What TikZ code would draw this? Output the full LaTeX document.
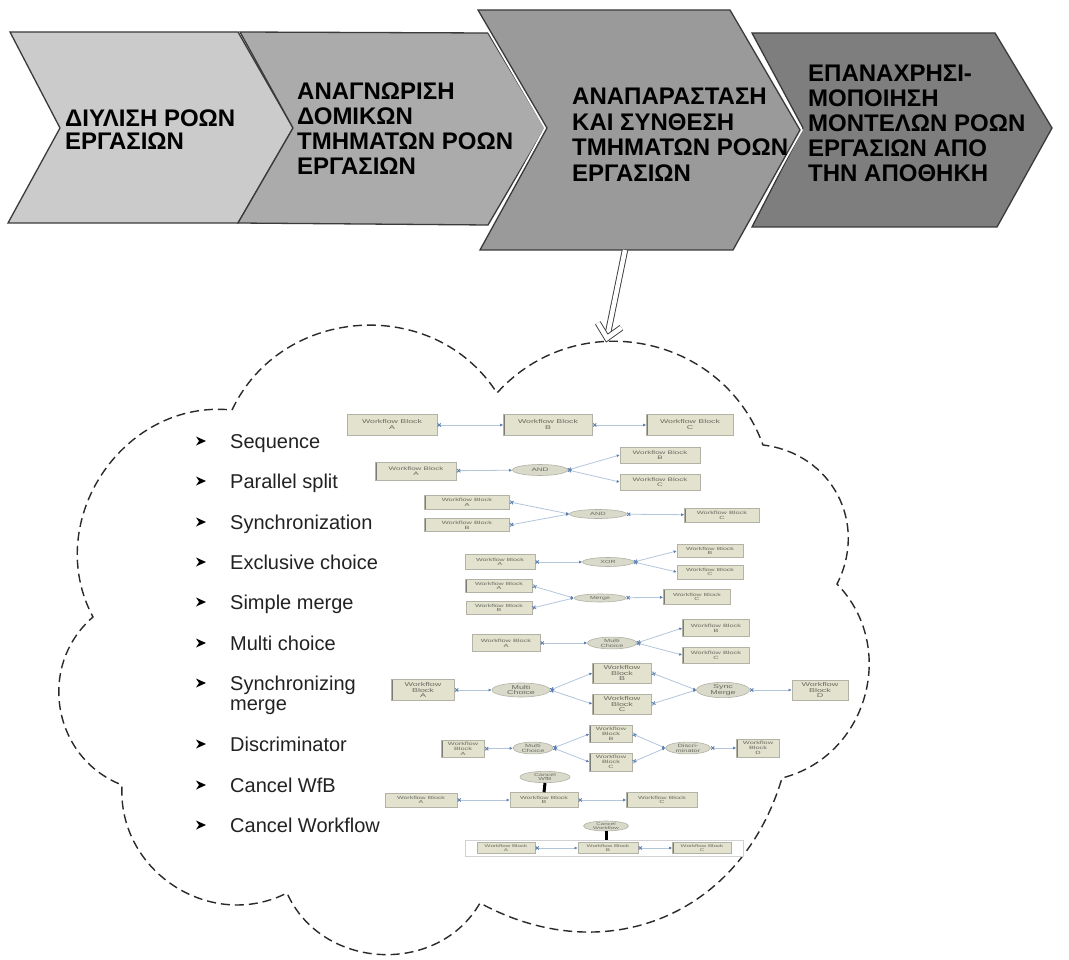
\documentclass[tikz,border=0pt]{standalone}
\usepackage{fontspec}
\setmainfont{Liberation Sans}
\newfontfamily\wfbfont[FakeStretch=1.6]{Liberation Sans}
\usetikzlibrary{arrows.meta,shapes.geometric}

\definecolor{chevA}{HTML}{CBCBCB}
\definecolor{chevB}{HTML}{ABABAB}
\definecolor{chevC}{HTML}{9A9A9A}
\definecolor{chevD}{HTML}{7E7E7E}
\definecolor{chevedge}{HTML}{3A3A3A}
\definecolor{listgray}{HTML}{222222}
\definecolor{cloudline}{HTML}{2A2A2A}
\definecolor{boxfill}{HTML}{E2E2CF}
\definecolor{boxedge}{HTML}{B2B2A6}
\definecolor{boxbar}{HTML}{7C7C74}
\definecolor{boxtext}{HTML}{6A6A60}
\definecolor{gatefill}{HTML}{DADACB}
\definecolor{flowline}{HTML}{B4C6DC}
\definecolor{portblue}{HTML}{5A7FB0}
\definecolor{framegray}{HTML}{D2D2D2}

% tiny block text: size and line skip
\newcommand{\wfs}[2]{\wfbfont\fontsize{#1}{#2}\selectfont}

\tikzset{
  chevron/.style={draw=chevedge, line width=1.3pt, line join=miter},
  chevtext/.style={anchor=north west, inner sep=0pt, align=left, text=black},
  listtext/.style={anchor=base west, inner sep=0pt, align=left, text=listgray,
    font=\fontsize{20}{20}\selectfont},
  listbullet/.pic={\fill[black] (5,0) -- (-5,-4.5) -- (-2,0) -- (-5,4.5) -- cycle;},
  cloudedge/.style={draw=cloudline, line width=1.4pt, dash pattern=on 9pt off 5pt,
    line cap=butt, line join=miter},
  lobe/.style={bend left=#1, looseness=1.12},
  hollow/.style={draw=chevedge, line width=0.9pt, double=white, double distance=4.5pt,
    line join=miter},
  wfb/.style={draw=boxedge, fill=boxfill, line width=0.6pt, inner sep=0.4pt,
    align=center, text=boxtext,
    path picture={\draw[boxbar, line width=2.4pt]
      (path picture bounding box.north west) -- (path picture bounding box.south west);}},
  gate/.style={ellipse, draw=boxedge, fill=gatefill, line width=0.6pt, inner sep=0pt,
    align=center, text=boxtext},
  flow/.style={draw=flowline, line width=0.8pt,
    {Rays[n=4,length=4.5pt,line width=0.9pt,color=portblue]}-{Latex[length=3pt,width=3pt,color=portblue]}},
  cancelbar/.style={draw=black, line width=3pt},
  wfframe/.style={draw=framegray, line width=0.7pt, fill=white},
}

\begin{document}
\begin{tikzpicture}[x=1pt,y=-1pt]
\useasboundingbox[fill=white] (0,0) rectangle (1069,960);

% ---------- process chevrons ----------
\filldraw[chevron, fill=chevA] (10,32) -- (238,32) -- (293,128) -- (238,223) -- (8,223) -- (60,128) -- cycle;
\filldraw[chevron, fill=chevB] (240,32) -- (488,33) -- (545,128) -- (488,225) -- (238,223) -- (293,128) -- cycle;
\filldraw[chevron, fill=chevD] (752,33) -- (995,33) -- (1052,128) -- (997,227) -- (752,227) -- (803,128) -- cycle;
\draw[white, line width=5pt, line join=miter] (478,10) -- (730,10) -- (800,130) -- (733,250) -- (480,250) -- (547,128) -- cycle;
\filldraw[chevron, fill=chevC] (478,10) -- (730,10) -- (800,130) -- (733,250) -- (480,250) -- (547,128) -- cycle;

\node[chevtext, font=\bfseries\fontsize{24}{23}\selectfont] (stepA) at (65,110)
  {ΔΙΥΛΙΣΗ ΡΟΩΝ\\ΕΡΓΑΣΙΩΝ};
\node[chevtext, font=\bfseries\fontsize{24}{25}\selectfont] (stepB) at (297,83)
  {ΑΝΑΓΝΩΡΙΣΗ\\ΔΟΜΙΚΩΝ\\ΤΜΗΜΑΤΩΝ ΡΟΩΝ\\ΕΡΓΑΣΙΩΝ};
\node[chevtext, font=\bfseries\fontsize{24}{25.5}\selectfont] (stepC) at (572,88)
  {ΑΝΑΠΑΡΑΣΤΑΣΗ\\ΚΑΙ ΣΥΝΘΕΣΗ\\ΤΜΗΜΑΤΩΝ ΡΟΩΝ\\ΕΡΓΑΣΙΩΝ};
\node[chevtext, font=\bfseries\fontsize{24}{25}\selectfont] (stepD) at (808,65)
  {ΕΠΑΝΑΧΡΗΣΙ-\\ΜΟΠΟΙΗΣΗ\\ΜΟΝΤΕΛΩΝ ΡΟΩΝ\\ΕΡΓΑΣΙΩΝ ΑΠΟ\\ΤΗΝ ΑΠΟΘΗΚΗ};

% ---------- hollow arrow into the cloud ----------
\coordinate (arrowfoot) at (625,250);
\coordinate (arrowneck) at (607.4,336);
\coordinate (arrowtip)  at (607,338);
\coordinate (headL) at (597.8,322.9);
\coordinate (headR) at (621.4,327.7);
\draw[hollow] (arrowfoot) -- (arrowneck);
\draw[hollow] (headL) -- (arrowtip) -- (headR);

% ---------- dashed cloud ----------
\draw[cloudedge] (232,410)
  to[lobe=61] (497,393)
  to[lobe=59] (763,445)
  to[lobe=55] (837,584)
  to[lobe=60] (782,778)
  to[lobe=51] (480,903)
  to[lobe=63] (287,893)
  to[lobe=60] (122,785)
  to[lobe=59] (93,617)
  to[lobe=62] (232,410);

% ---------- pattern list ----------
\foreach \by in {441,481,522,562,602,643,683,744,785,825}
  \pic at (201,\by) {listbullet};
\node[listtext] (lseq)  at (230,448) {Sequence};
\node[listtext] (lpar)  at (230,488) {Parallel split};
\node[listtext] (lsync) at (230,529) {Synchronization};
\node[listtext] (lxor)  at (230,569) {Exclusive choice};
\node[listtext] (lsm)   at (230,609) {Simple merge};
\node[listtext] (lmc)   at (230,650) {Multi choice};
\node[listtext] (lsmg)  at (230,710) {Synchronizing\\merge};
\node[listtext] (ldisc) at (230,751) {Discriminator};
\node[listtext] (lcwb)  at (230,792) {Cancel WfB};
\node[listtext] (lcwf)  at (230,832) {Cancel Workflow};

% ---------- Sequence ----------
\begin{scope}[every node/.append style={font=\wfs{5.5}{6}}]
\node[wfb, minimum width=90, minimum height=21] (sqA) at (392,425) {Workflow Block\\A};
\node[wfb, minimum width=89, minimum height=21] (sqB) at (548,425) {Workflow Block\\B};
\node[wfb, minimum width=87, minimum height=21] (sqC) at (690,425) {Workflow Block\\C};
\end{scope}
\draw[flow] (sqA) -- (sqB);
\draw[flow] (sqB) -- (sqC);

% ---------- Parallel split ----------
\begin{scope}[every node/.append style={font=\wfs{5}{5.5}}]
\node[wfb, minimum width=81, minimum height=18] (psA) at (416,471) {Workflow Block\\A};
\node[gate, minimum width=55, minimum height=11] (psAND) at (540,470) {AND};
\node[wfb, minimum width=80, minimum height=16] (psB) at (660,455) {Workflow Block\\B};
\node[wfb, minimum width=80, minimum height=16] (psC) at (660,482) {Workflow Block\\C};
\end{scope}
\draw[flow] (psA) -- (psAND);
\draw[flow] (psAND.east) -- (psB.west);
\draw[flow] (psAND.east) -- (psC.west);

% ---------- Synchronization ----------
\begin{scope}[every node/.append style={font=\wfs{4.6}{5}}]
\node[wfb, minimum width=85, minimum height=14] (syA) at (467,502) {Workflow Block\\A};
\node[wfb, minimum width=85, minimum height=13] (syB) at (467,525) {Workflow Block\\B};
\node[gate, minimum width=57, minimum height=9] (syAND) at (598,514) {AND};
\node[wfb, minimum width=75, minimum height=14] (syC) at (722,515) {Workflow Block\\C};
\end{scope}
\draw[flow] (syA.east) -- (syAND.west);
\draw[flow] (syB.east) -- (syAND.west);
\draw[flow] (syAND) -- (syC);

% ---------- Exclusive choice ----------
\begin{scope}[every node/.append style={font=\wfs{4.4}{4.8}}]
\node[wfb, minimum width=70, minimum height=15] (xcA) at (500,562) {Workflow Block\\A};
\node[gate, minimum width=51, minimum height=9] (xcXOR) at (608,562) {XOR};
\node[wfb, minimum width=66, minimum height=13] (xcB) at (710,551) {Workflow Block\\B};
\node[wfb, minimum width=66, minimum height=14] (xcC) at (710,572) {Workflow Block\\C};
\end{scope}
\draw[flow] (xcA) -- (xcXOR);
\draw[flow] (xcXOR.east) -- (xcB.west);
\draw[flow] (xcXOR.east) -- (xcC.west);

% ---------- Simple merge ----------
\begin{scope}[every node/.append style={font=\wfs{4.4}{4.8}}]
\node[wfb, minimum width=67, minimum height=13] (smA) at (499,586) {Workflow Block\\A};
\node[wfb, minimum width=66, minimum height=13] (smB) at (499,608) {Workflow Block\\B};
\node[gate, minimum width=52, minimum height=8] (smM) at (600,598) {Merge};
\node[wfb, minimum width=67, minimum height=15] (smC) at (697,597) {Workflow Block\\C};
\end{scope}
\draw[flow] (smA.east) -- (smM.west);
\draw[flow] (smB.east) -- (smM.west);
\draw[flow] (smM) -- (smC);

% ---------- Multi choice ----------
\begin{scope}[every node/.append style={font=\wfs{4.6}{5}}]
\node[wfb, minimum width=68, minimum height=17] (mcA) at (506,643) {Workflow Block\\A};
\node[gate, minimum width=49, minimum height=10] (mcG) at (612,643) {Multi\\Choice};
\node[wfb, minimum width=67, minimum height=17] (mcB) at (716,628) {Workflow Block\\B};
\node[wfb, minimum width=67, minimum height=16] (mcC) at (716,655) {Workflow Block\\C};
\end{scope}
\draw[flow] (mcA) -- (mcG);
\draw[flow] (mcG.east) -- (mcB.west);
\draw[flow] (mcG.east) -- (mcC.west);

% ---------- Synchronizing merge ----------
\begin{scope}[every node/.append style={font=\wfs{5.6}{5.8}}]
\node[wfb, minimum width=63, minimum height=21] (sgA) at (423,690) {Workflow\\Block\\A};
\node[gate, minimum width=58, minimum height=10] (sgMC) at (521,690) {Multi\\Choice};
\node[wfb, minimum width=59, minimum height=20] (sgB) at (622,673) {Workflow\\Block\\B};
\node[wfb, minimum width=59, minimum height=20] (sgC) at (622,704) {Workflow\\Block\\C};
\node[gate, minimum width=53, minimum height=10] (sgSM) at (723,690) {Sync\\Merge};
\node[wfb, minimum width=56, minimum height=20] (sgD) at (820,690) {Workflow\\Block\\D};
\end{scope}
\draw[flow] (sgA) -- (sgMC);
\draw[flow] (sgMC.east) -- (sgB.west);
\draw[flow] (sgMC.east) -- (sgC.west);
\draw[flow] (sgB.east) -- (sgSM.west);
\draw[flow] (sgC.east) -- (sgSM.west);
\draw[flow] (sgSM) -- (sgD);

% ---------- Discriminator ----------
\begin{scope}[every node/.append style={font=\wfs{4.6}{5}}]
\node[wfb, minimum width=43, minimum height=17] (dsA) at (463,749) {Workflow\\Block\\A};
\node[gate, minimum width=40, minimum height=9] (dsMC) at (533,748) {Multi\\Choice};
\node[wfb, minimum width=43, minimum height=17] (dsB) at (611,734) {Workflow\\Block\\B};
\node[wfb, minimum width=43, minimum height=18] (dsC) at (611,762) {Workflow\\Block\\C};
\node[gate, minimum width=45, minimum height=10] (dsG) at (688,748) {Discri-\\minator};
\node[wfb, minimum width=43, minimum height=18] (dsD) at (758,748) {Workflow\\Block\\D};
\end{scope}
\draw[flow] (dsA) -- (dsMC);
\draw[flow] (dsMC.east) -- (dsB.west);
\draw[flow] (dsMC.east) -- (dsC.west);
\draw[flow] (dsB.east) -- (dsG.west);
\draw[flow] (dsC.east) -- (dsG.west);
\draw[flow] (dsG) -- (dsD);

% ---------- Cancel WfB ----------
\begin{scope}[every node/.append style={font=\wfs{4.4}{4.8}}]
\node[gate, minimum width=50, minimum height=10] (cbG) at (545,777) {Cancel\\WfB};
\node[wfb, minimum width=72, minimum height=14] (cbA) at (421,800) {Workflow Block\\A};
\node[wfb, minimum width=68, minimum height=15] (cbB) at (544,800) {Workflow Block\\B};
\node[wfb, minimum width=71, minimum height=15] (cbC) at (662,800) {Workflow Block\\C};
\end{scope}
\draw[cancelbar] (cbG.south) -- (cbB.north);
\draw[flow] (cbA) -- (cbB);
\draw[flow] (cbB) -- (cbC);

% ---------- Cancel Workflow ----------
\node[wfframe, minimum width=278, minimum height=16] (cfFrame) at (604,848) {};
\begin{scope}[every node/.append style={font=\wfs{3.9}{4.2}}]
\node[gate, minimum width=45, minimum height=8] (cfG) at (606,826) {Cancel\\Workflow};
\node[wfb, minimum width=58, minimum height=11] (cfA) at (506,848) {Workflow Block\\A};
\node[wfb, minimum width=60, minimum height=11] (cfB) at (608,848) {Workflow Block\\B};
\node[wfb, minimum width=59, minimum height=11] (cfC) at (702,848) {Workflow Block\\C};
\end{scope}
\draw[cancelbar] (cfG.south) -- (cfFrame.north -| cfG.south);
\draw[flow] (cfA) -- (cfB);
\draw[flow] (cfB) -- (cfC);

\end{tikzpicture}
\end{document}
